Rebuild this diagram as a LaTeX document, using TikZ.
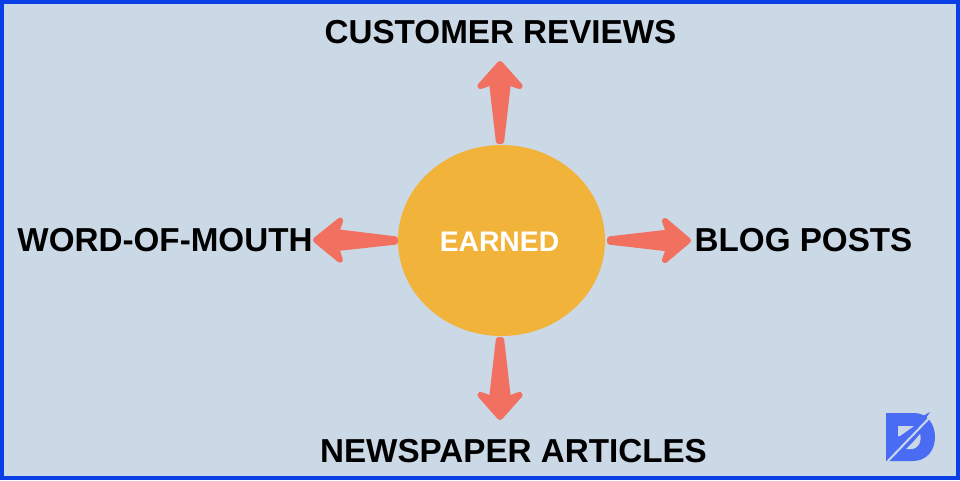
\documentclass[tikz,border=0pt]{standalone}
\usepackage{fontspec}
\setmainfont{Liberation Sans}
\usetikzlibrary{calc,shapes.geometric}
\definecolor{bgc}{HTML}{CBD8E6}
\definecolor{framec}{HTML}{0B3FE6}
\definecolor{circc}{HTML}{F2B33B}
\definecolor{arrc}{HTML}{F1705F}
\definecolor{logoc}{HTML}{4A6CF5}
\tikzset{
  lab/.style={font=\fontsize{33.2}{33.2}\selectfont\bfseries,text=black,inner sep=0pt,anchor=base},
  hub/.style={ellipse,fill=circc,minimum width=207pt,minimum height=191pt,inner sep=0pt},
  fatarrow/.style={fill=arrc,draw=arrc,line width=6pt,line join=round}
}
% tapered arrow from point #1 to point #2 (83pt long)
\newcommand{\taper}[2]{%
  \path[fatarrow]
    ($(#1)!3pt!(#2)!1.2pt!90:(#2)$)
    -- ($(#1)!62pt!(#2)!8pt!90:(#2)$)
    -- ($(#1)!58pt!(#2)!19.5pt!90:(#2)$)
    -- ($(#2)!3pt!(#1)$)
    -- ($(#1)!58pt!(#2)!19.5pt!-90:(#2)$)
    -- ($(#1)!62pt!(#2)!8pt!-90:(#2)$)
    -- ($(#1)!3pt!(#2)!1.2pt!-90:(#2)$) -- cycle;}
\begin{document}
\begin{tikzpicture}[x=1pt,y=-1pt]
\useasboundingbox (0,0) rectangle (960,480);
\fill[framec] (0,0) rectangle (960,480);
\fill[bgc] (4,4) rectangle (956,476);
\node[hub] (earned) at (501.5,240.5) {};
\node[font=\fontsize{28.3}{28.3}\selectfont\bfseries,text=white,inner sep=0pt,anchor=base] (earnedtxt) at (499.5,251) {EARNED};
\node[lab] (reviews) at (500.5,43) {CUSTOMER REVIEWS};
\node[lab] (mouth) at (165,251) {WORD-OF-MOUTH};
\node[lab] (blog) at (803.5,251) {BLOG POSTS};
\node[lab] (news) at (513.5,462) {NEWSPAPER ARTICLES};
\coordinate (tipn) at (500,61);
\coordinate (tips) at (500,420);
\coordinate (tipw) at (313,240);
\coordinate (tipe) at (691,240.5);
\coordinate (tailn) at (500,144);
\coordinate (tails) at (500,337);
\coordinate (tailw) at (398,240.5);
\coordinate (taile) at (607,240.5);
\taper{tailn}{tipn}
\taper{tails}{tips}
\taper{tailw}{tipw}
\taper{taile}{tipe}
% logo
\fill[logoc] (886,413) -- (914,413) .. controls (927,413) and (935,424) .. (935,437) .. controls (935,451) and (926,461) .. (913,461) -- (886,461) -- cycle;
\fill[bgc] (898,426) -- (914,426) -- (900,436) -- (898,436) -- cycle;
\fill[bgc] (914,441) -- (920,434) .. controls (922,441) and (919,449) .. (911,449) -- (906,449) -- cycle;
\fill[logoc] (914,421) -- (930,412) -- (918,430) -- cycle;
\draw[bgc,line width=2pt] (935,412) -- (886,463);
\end{tikzpicture}
\end{document}
